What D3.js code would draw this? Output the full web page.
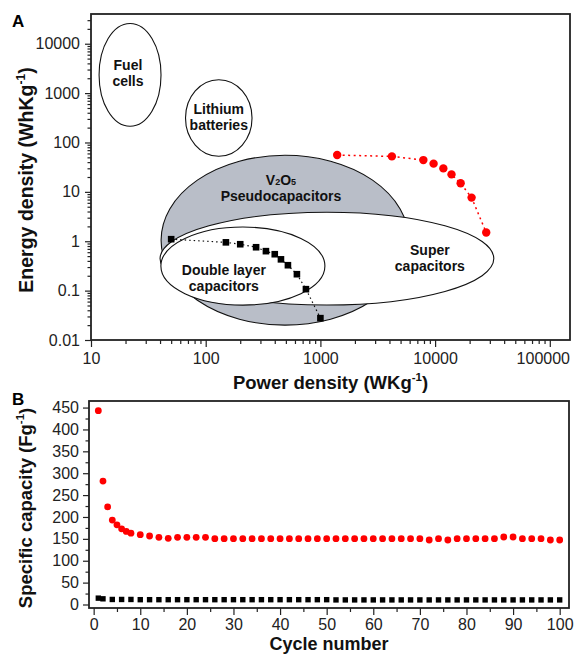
<!DOCTYPE html>
<html>
<head>
<meta charset="utf-8">
<script src="https://cdn.jsdelivr.net/npm/d3@7"></script>
<style>
  body { margin: 0; background: #fff; }
  svg { font-family: Arial, "Liberation Sans", sans-serif; }
  .tick text { font-family: Arial, "Liberation Sans", sans-serif; font-size: 16px; fill: #222; }
  .axis-title { font-weight: bold; fill: #111; }
  .region-label { font-weight: bold; font-size: 14px; fill: #111; text-anchor: middle; }
</style>
</head>
<body>
<div id="wrapper"></div>
<script>
// ---- panel A data (Ragone plot) ----
const powerBlack = [50, 150, 200, 275, 335, 400, 453, 521, 624, 748, 1000];
const energyBlack = [1.1, 0.95, 0.87, 0.756, 0.63, 0.546, 0.43, 0.327, 0.215, 0.107, 0.0277];
const powerRed = [1400, 4200, 7900, 9700, 11800, 13900, 16700, 20800, 27900];
const energyRed = [55.6, 52.3, 44, 37.3, 29.9, 22.6, 14.9, 7.65, 1.5];

// regions: centre (power, energy) and half sizes in decades
const regionNames = ['V2O5', 'Super', 'Double', 'Fuel', 'Lithium'];
const regionPower = [491, 1140, 211, 21.9, 130];
const regionEnergy = [1.05, 0.445, 0.314, 2340, 313];
const regionHalfX = [1.08, 1.455, 0.715, 0.27, 0.29];
const regionHalfY = [1.72, 0.94, 0.79, 1.04, 0.775];
const regionFill = ['#b9bec8', '#fff', '#fff', 'none', 'none'];
const regionText = [['V2O5', 'Pseudocapacitors'], ['Super', 'capacitors'], ['Double layer', 'capacitors'], ['Fuel', 'cells'], ['Lithium', 'batteries']];
const labelPower = [453, 9000, 144, 21, 130];
const labelEnergy = [13.6, 0.524, 0.206, 2880, 385];

const powerTicks = [10, 100, 1000, 10000, 100000];
const energyTicks = [0.01, 0.1, 1, 10, 100, 1000, 10000];

// ---- panel B data (cycling) ----
const cyclesRed = [1, 2, 3, 4, 5, 6, 7, 8, 10, 12, 14, 16, 18, 20, 22, 24, 26, 28, 30, 32, 34, 36, 38, 40,
  42, 44, 46, 48, 50, 52, 54, 56, 58, 60, 62, 64, 66, 68, 70, 72, 74, 76, 78, 80, 82, 84, 86, 88, 90,
  92, 94, 96, 98, 100];
const capacityRed = [443, 282, 223, 193, 182, 173, 167, 163, 159.5, 156.5, 153.6, 151.3, 153.6, 153.6, 153.6, 153.6,
  150.4, 150.4, 150.4, 150.4, 150.4, 150.4, 150.4, 150.4, 150.4, 150.4, 150.4, 150.4, 150.4, 150.4, 150.4,
  150.4, 150.4, 150.4, 150.4, 150.4, 150.4, 150.4, 150.4, 147.4, 150.4, 147.4, 150.4, 150.4, 150.4, 150.4,
  150.4, 154.2, 154.2, 150.4, 150.4, 150.4, 147.4, 147.4];
const cyclesBlack = [1, 2, 4, 6, 8, 10, 12, 14, 16, 18, 20, 22, 24, 26, 28, 30, 32, 34, 36, 38, 40, 42, 44, 46,
  48, 50, 52, 54, 56, 58, 60, 62, 64, 66, 68, 70, 72, 74, 76, 78, 80, 82, 84, 86, 88, 90, 92, 94, 96, 98, 100];
const capacityBlack = [14.5, 13, 11.5, 11.5, 11.5, 11, 11, 11, 11, 11, 11, 11, 11, 11, 11, 11, 11, 11, 11, 11,
  11, 11, 11, 11, 11, 11, 10.5, 10.5, 10.5, 10.5, 10.5, 10.5, 10.5, 10.5, 10.5, 10.5, 10.5, 10.5, 10.5, 10.5,
  10.5, 10.5, 10.5, 10.5, 10.5, 10.5, 10.5, 10.5, 10.5, 10.5, 10.5];
const cycleTicks = [0, 10, 20, 30, 40, 50, 60, 70, 80, 90, 100];
const capacityTicks = [0, 50, 100, 150, 200, 250, 300, 350, 400, 450];

const wrapper = d3.select('#wrapper')
  .append('svg')
  .attr('width', 575)
  .attr('height', 654);

// superscript helper for "(...Kg-1)"
function addTitle(sel, main, unit) {
  sel.append('tspan').text(main + ' (' + unit);
  sel.append('tspan').attr('dy', -8).attr('font-size', '0.62em').text('-1');
  sel.append('tspan').attr('dy', 8).text(')');
}

function drawRagone() {
  let dimensions = {
    width: 575, height: 392,
    margin: { top: 14, right: 5, bottom: 52, left: 91 }
  };
  dimensions.boundedWidth = 479;
  dimensions.boundedHeight = 326;

  const bounds = wrapper.append('g')
    .attr('transform', `translate(${dimensions.margin.left}, ${dimensions.margin.top})`);

  const xScale = d3.scaleLog().domain([10, 150000]).range([0, dimensions.boundedWidth]);
  const yScale = d3.scaleLog().domain([0.01, 40000]).range([dimensions.boundedHeight, 0]);

  const decade = (scale, v, d) => Math.abs(scale(v * Math.pow(10, d)) - scale(v));

  // regions
  const regions = regionNames.map((n, i) => ({
    name: n, p: regionPower[i], e: regionEnergy[i], hx: regionHalfX[i], hy: regionHalfY[i], fill: regionFill[i]
  }));
  bounds.selectAll('ellipse')
    .data(regions)
    .join('ellipse')
    .attr('cx', d => xScale(d.p))
    .attr('cy', d => yScale(d.e))
    .attr('rx', d => decade(xScale, d.p, d.hx))
    .attr('ry', d => decade(yScale, d.e, d.hy))
    .attr('fill', d => d.fill)
    .attr('stroke', '#111')
    .attr('stroke-width', 1.1);

  // region labels
  regionText.forEach((lines, i) => {
    const t = bounds.append('text')
      .attr('class', 'region-label')
      .attr('x', xScale(labelPower[i]))
      .attr('y', yScale(labelEnergy[i]));
    lines.forEach((line, j) => {
      const ts = t.append('tspan').attr('x', xScale(labelPower[i])).attr('dy', j === 0 ? 0 : 16);
      if (line === 'V2O5') {
        ts.text('V');
        t.append('tspan').attr('font-size', 9).text('2');
        t.append('tspan').text('O');
        t.append('tspan').attr('font-size', 9).text('5');
      } else {
        ts.text(line);
      }
    });
  });

  // series
  const black = powerBlack.map((p, i) => [p, energyBlack[i]]);
  const red = powerRed.map((p, i) => [p, energyRed[i]]);
  const line = d3.line().x(d => xScale(d[0])).y(d => yScale(d[1]));

  bounds.append('path').datum(black).attr('d', line)
    .attr('fill', 'none').attr('stroke', '#111').attr('stroke-width', 1.2).attr('stroke-dasharray', '1.5,3');
  bounds.append('path').datum(red).attr('d', line)
    .attr('fill', 'none').attr('stroke', '#f00').attr('stroke-width', 1.5).attr('stroke-dasharray', '2,3.5');

  bounds.selectAll('.sq').data(black).join('rect').attr('class', 'sq')
    .attr('x', d => xScale(d[0]) - 3.3).attr('y', d => yScale(d[1]) - 3.3)
    .attr('width', 6.6).attr('height', 6.6).attr('fill', '#000');
  bounds.selectAll('.dot').data(red).join('circle').attr('class', 'dot')
    .attr('cx', d => xScale(d[0])).attr('cy', d => yScale(d[1])).attr('r', 4.2).attr('fill', '#f00');

  // axes
  const minor = (lo, hi) => {
    const out = [];
    for (let d = lo; d < hi; d *= 10) for (let k = 2; k <= 9; k++) out.push(d * k);
    return out;
  };
  const xMinor = minor(10, 100000).filter(v => v <= 150000);
  const yMinor = minor(0.01, 10000).concat([20000, 30000]);

  const xAxis = bounds.append('g').attr('transform', `translate(0, ${dimensions.boundedHeight})`)
    .call(d3.axisBottom(xScale).tickValues(powerTicks).tickFormat(d3.format('d')).tickSize(7).tickSizeOuter(0).tickPadding(6));
  // last label sits a little left so it stays inside the page
  xAxis.selectAll('.tick text').filter(d => d === 100000).attr('dx', -7);
  bounds.append('g').attr('transform', `translate(0, ${dimensions.boundedHeight})`)
    .call(d3.axisBottom(xScale).tickValues(xMinor).tickFormat('').tickSize(4).tickSizeOuter(0));
  const yAxis = bounds.append('g')
    .call(d3.axisLeft(yScale).tickValues(energyTicks).tickFormat(d => d < 1 ? String(d) : d3.format('d')(d)).tickSize(6).tickSizeOuter(0).tickPadding(5));
  bounds.append('g')
    .call(d3.axisLeft(yScale).tickValues(yMinor).tickFormat('').tickSize(3.5).tickSizeOuter(0));
  bounds.selectAll('.domain').remove();
  bounds.selectAll('.tick line').attr('stroke', '#222').attr('stroke-width', 1.2);

  bounds.append('rect')
    .attr('width', dimensions.boundedWidth).attr('height', dimensions.boundedHeight)
    .attr('fill', 'none').attr('stroke', '#222').attr('stroke-width', 1.8);

  const xTitle = wrapper.append('text').attr('class', 'axis-title')
    .attr('x', dimensions.margin.left + dimensions.boundedWidth / 2).attr('y', 389)
    .attr('text-anchor', 'middle').attr('font-size', 18.5);
  addTitle(xTitle, 'Power density', 'WKg');

  const yTitle = wrapper.append('text').attr('class', 'axis-title')
    .attr('transform', `translate(33, 180) rotate(-90)`)
    .attr('text-anchor', 'middle').attr('font-size', 19.5);
  addTitle(yTitle, 'Energy density', 'WhKg');

  wrapper.append('text').attr('x', 12).attr('y', 27).attr('font-weight', 'bold').attr('font-size', 17).text('A');
}

function drawCycling() {
  let dimensions = {
    margin: { top: 401, left: 89 },
    boundedWidth: 480,
    boundedHeight: 207
  };
  const bounds = wrapper.append('g')
    .attr('transform', `translate(${dimensions.margin.left}, ${dimensions.margin.top})`);

  const xScale = d3.scaleLinear().domain([-1, 102]).range([0, dimensions.boundedWidth]);
  const yScale = d3.scaleLinear().domain([-8, 465]).range([dimensions.boundedHeight, 0]);

  const red = cyclesRed.map((c, i) => [c, capacityRed[i]]);
  const black = cyclesBlack.map((c, i) => [c, capacityBlack[i]]);

  bounds.selectAll('.sq').data(black).join('rect').attr('class', 'sq')
    .attr('x', d => xScale(d[0]) - 2.7).attr('y', d => yScale(d[1]) - 2.7)
    .attr('width', 5.4).attr('height', 5.4).attr('fill', '#000');
  bounds.selectAll('.dot').data(red).join('circle').attr('class', 'dot')
    .attr('cx', d => xScale(d[0])).attr('cy', d => yScale(d[1])).attr('r', 3.4).attr('fill', '#f00');

  const xMinor = cycleTicks.slice(0, -1).map(v => v + 5);
  const yMinor = capacityTicks.slice(0, -1).map(v => v + 25);

  bounds.append('g').attr('transform', `translate(0, ${dimensions.boundedHeight})`)
    .call(d3.axisBottom(xScale).tickValues(cycleTicks).tickSize(7).tickSizeOuter(0).tickPadding(4));
  bounds.append('g').attr('transform', `translate(0, ${dimensions.boundedHeight})`)
    .call(d3.axisBottom(xScale).tickValues(xMinor).tickFormat('').tickSize(4).tickSizeOuter(0));
  bounds.append('g')
    .call(d3.axisLeft(yScale).tickValues(capacityTicks).tickSize(6).tickSizeOuter(0).tickPadding(4));
  bounds.append('g')
    .call(d3.axisLeft(yScale).tickValues(yMinor).tickFormat('').tickSize(3.5).tickSizeOuter(0));
  bounds.selectAll('.domain').remove();
  bounds.selectAll('.tick line').attr('stroke', '#222').attr('stroke-width', 1.2);

  bounds.append('rect')
    .attr('width', dimensions.boundedWidth).attr('height', dimensions.boundedHeight)
    .attr('fill', 'none').attr('stroke', '#222').attr('stroke-width', 1.8);

  wrapper.append('text').attr('class', 'axis-title')
    .attr('x', dimensions.margin.left + dimensions.boundedWidth / 2).attr('y', 650)
    .attr('text-anchor', 'middle').attr('font-size', 18).text('Cycle number');

  const yTitle = wrapper.append('text').attr('class', 'axis-title')
    .attr('transform', `translate(31.5, 508) rotate(-90)`)
    .attr('text-anchor', 'middle').attr('font-size', 18.5);
  addTitle(yTitle, 'Specific capacity', 'Fg');

  wrapper.append('text').attr('x', 12).attr('y', 405).attr('font-weight', 'bold').attr('font-size', 17).text('B');
}

drawRagone();
drawCycling();
</script>
</body>
</html>
